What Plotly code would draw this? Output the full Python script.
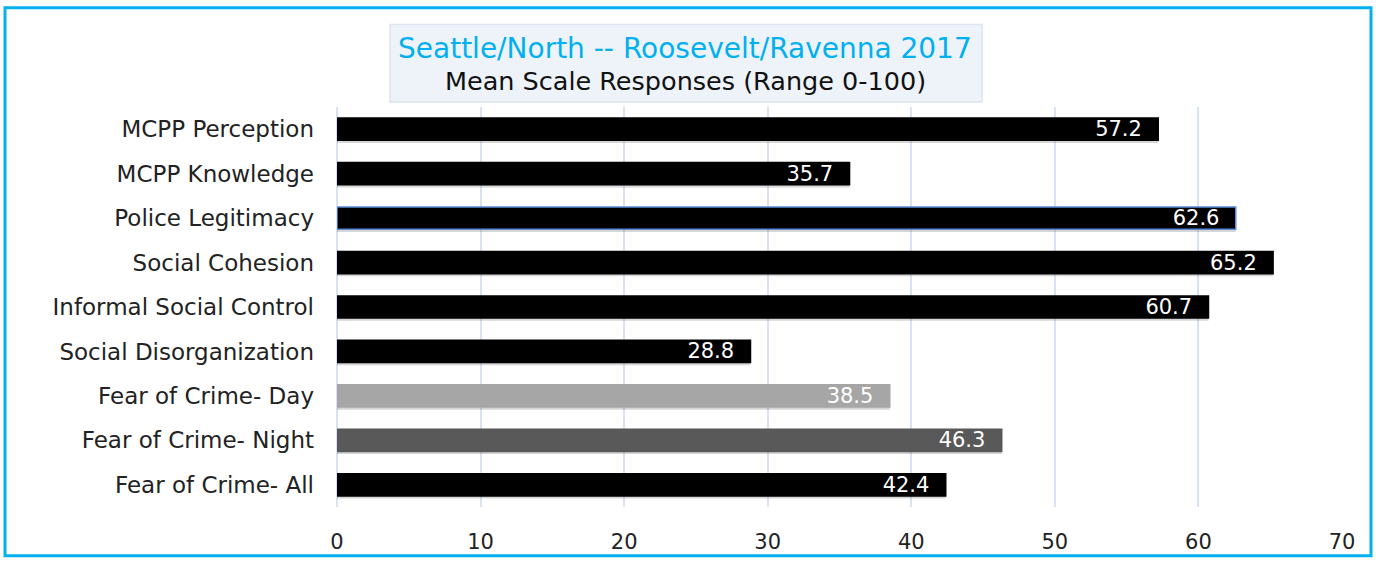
import plotly.graph_objects as go

categories = ["MCPP Perception", "MCPP Knowledge", "Police Legitimacy", "Social Cohesion",
              "Informal Social Control", "Social Disorganization", "Fear of Crime- Day",
              "Fear of Crime- Night", "Fear of Crime- All"]
values = [57.2, 35.7, 62.6, 65.2, 60.7, 28.8, 38.5, 46.3, 42.4]
bar_colors = ["#000000", "#000000", "#000000", "#000000", "#000000", "#000000",
              "#a6a6a6", "#595959", "#000000"]
line_colors = ["#000000", "#000000", "#5b8bd6", "#000000", "#000000", "#000000",
               "#a6a6a6", "#595959", "#000000"]
title_line1 = "Seattle/North -- Roosevelt/Ravenna 2017"
title_line2 = "Mean Scale Responses (Range 0-100)"
x_ticks = [0, 10, 20, 30, 40, 50, 60, 70]

W, H = 1379, 566
L, R, T, B = 337, 37, 107, 52
pw, ph = W - L - R, H - T - B

def px(x):
    return (x - L) / pw

def py(y):
    return 1 - (y - T) / ph

FONT = "'DejaVu Sans', sans-serif"
PAD = "\u00a0\u00a0"

fig = go.Figure()
# soft shadow
fig.add_trace(go.Bar(
    y=categories, x=values, orientation="h",
    marker=dict(color="rgba(0,0,0,0.16)", line=dict(width=0)),
    width=0.5, offset=-0.19, hoverinfo="skip", showlegend=False,
))
fig.add_trace(go.Bar(
    y=categories, x=values, orientation="h",
    marker=dict(color=bar_colors, line=dict(color=line_colors, width=1.5)),
    width=0.5, offset=-0.25,
    text=[f"{v:.1f}{PAD}" for v in values], textposition="inside",
    insidetextanchor="end", textangle=0, constraintext="none",
    textfont=dict(color="white", size=21, family=FONT),
    showlegend=False,
))

fig.update_layout(
    width=W, height=H,
    margin=dict(l=L, r=R, t=T, b=B),
    paper_bgcolor="white", plot_bgcolor="white",
    barmode="overlay",
    font=dict(family=FONT, color="#222222"),
    xaxis=dict(range=[0, 70], tickvals=x_ticks, showgrid=True, gridcolor="#d9e2f3",
               gridwidth=1.5, zeroline=True, zerolinecolor="#d9e2f3", zerolinewidth=1.5,
               showline=False, ticks="", tickfont=dict(size=21, color="#222222"),
               ticklabelstandoff=20),
    yaxis=dict(showgrid=False, zeroline=False, showline=False,
               ticks="", tickfont=dict(size=23, color="#222222"), ticklabelstandoff=22,
               range=[8.5, -0.5]),
    shapes=[
        dict(type="rect", xref="paper", yref="paper", x0=px(5), x1=px(1371),
             y0=py(563.5), y1=py(6), line=dict(color="#00b0f0", width=3), layer="above"),
        dict(type="rect", xref="paper", yref="paper", x0=px(390), x1=px(982),
             y0=py(102), y1=py(23), fillcolor="#eef3fa",
             line=dict(color="#dde5f0", width=1.5)),
    ],
    annotations=[
        dict(text=title_line1, xref="paper", yref="paper", x=px(685), y=py(47),
             xanchor="center", yanchor="middle",
             showarrow=False, font=dict(size=28, color="#00b0f0", family=FONT)),
        dict(text=title_line2, xref="paper", yref="paper", x=px(685), y=py(81),
             xanchor="center", yanchor="middle",
             showarrow=False, font=dict(size=25.5, color="#111111", family=FONT)),
    ],
    bargap=0.5,
)

fig.write_html("out.html")
